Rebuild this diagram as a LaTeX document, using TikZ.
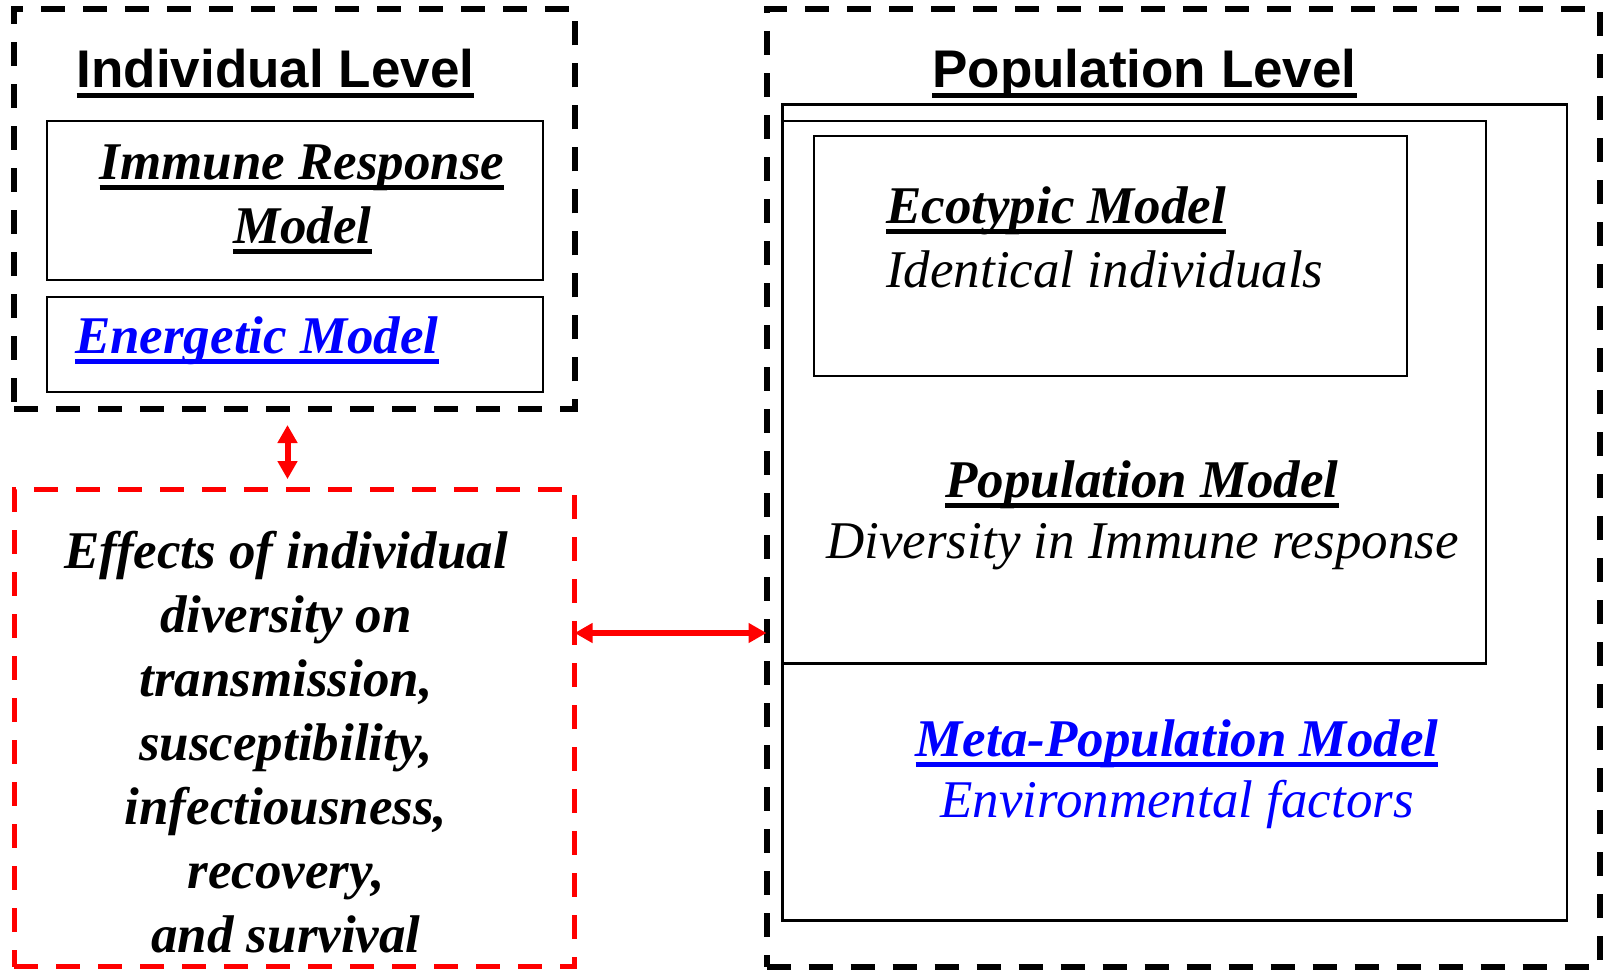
\documentclass[tikz,border=0pt]{standalone}
\usepackage{fontspec}
\setmainfont{Liberation Serif}
\newfontfamily\arialfont{Liberation Sans}
\usetikzlibrary{arrows.meta}
\newsavebox\ulbox
\newcommand\myul[1]{\sbox\ulbox{#1}\rlap{\rule[-0.21em]{\wd\ulbox}{0.09em}}\usebox\ulbox}
\definecolor{pureblue}{RGB}{0,0,255}
\definecolor{purered}{RGB}{255,0,0}
\begin{document}
\begin{tikzpicture}[x=1pt,y=-1pt,
  box/.style={draw, inner sep=0pt, outer sep=0pt, anchor=north west},
  solidbox/.style={box, line width=2.5pt},
  dashbox/.style={box, line width=6pt, dash pattern=on 24pt off 18pt},
  reddashbox/.style={box, draw=purered, line width=5.5pt, dash pattern=on 24pt off 18pt},
  txt/.style={inner sep=0pt, anchor=base, font=\fontsize{53}{64}\selectfont},
  head/.style={txt, font=\fontsize{53}{64}\selectfont\arialfont\bfseries},
  bi/.style={txt, font=\fontsize{53}{64}\selectfont\bfseries\itshape},
  it/.style={txt, font=\fontsize{53}{64}\selectfont\itshape},
  redarr/.style={draw=purered, line width=6pt, {Triangle[length=18pt,width=19pt]}-{Triangle[length=18pt,width=19pt]}}
]
\useasboundingbox (0,0) rectangle (1606,969);

% boxes
\node[dashbox, minimum width=560.3pt, minimum height=400pt] (indiv) at (14.3,9) {};
\node[solidbox, minimum width=496pt, minimum height=159pt] (immune) at (47,121) {};
\node[solidbox, minimum width=496pt, minimum height=95pt] (energ) at (47,297) {};
\node[reddashbox, minimum width=560.3pt, minimum height=477pt] (eff) at (14.3,489.6) {};
\node[dashbox, minimum width=833pt, minimum height=958pt] (pop) at (766.5,9) {};
\node[solidbox, minimum width=784.5pt, minimum height=816pt] (meta) at (782.5,104.5) {};
\node[solidbox, minimum width=703.5pt, minimum height=542.7pt] (popm) at (782.5,121) {};
\node[solidbox, minimum width=593pt, minimum height=240pt] (eco) at (814,136) {};

% texts
\node[head] (tIL) at (275.5,87) {\myul{Individual Level}};
\node[bi] (tIR1) at (302,179) {\myul{Immune Response}};
\node[bi] (tIR2) at (302.5,243) {\myul{Model}};
\node[bi, anchor=base west, text=pureblue] (tEn) at (74.8,353) {\myul{Energetic Model}};

\node[bi] (e1) at (286,568) {Effects of individual};
\node[bi] (e2) at (286,632) {diversity on};
\node[bi] (e3) at (286,696) {transmission,};
\node[bi] (e4) at (286,760) {susceptibility,};
\node[bi] (e5) at (286,824) {infectiousness,};
\node[bi] (e6) at (286,888) {recovery,};
\node[bi] (e7) at (286,952) {and survival};

\node[head] (tPL) at (1144.5,87) {\myul{Population Level}};
\node[bi, anchor=base west] (tEc) at (886,223) {\myul{Ecotypic Model}};
\node[it, anchor=base west] (tId) at (886,287) {Identical individuals};
\node[bi] (tPM) at (1142,497) {\myul{Population Model}};
\node[it] (tDi) at (1142.5,558) {Diversity in Immune response};
\node[bi, text=pureblue] (tMP) at (1177,756) {\myul{Meta-Population Model}};
\node[it, text=pureblue] (tEF) at (1177,817) {Environmental factors};

% connectors
\coordinate (vx) at (287.5,0);
\coordinate (hy) at (0,633);
\draw[redarr, shorten <=16pt, shorten >=10.5pt] (indiv.south -| vx) -- (eff.north -| vx);
\draw[redarr] (eff.east |- hy) -- (pop.west |- hy);
\end{tikzpicture}
\end{document}
